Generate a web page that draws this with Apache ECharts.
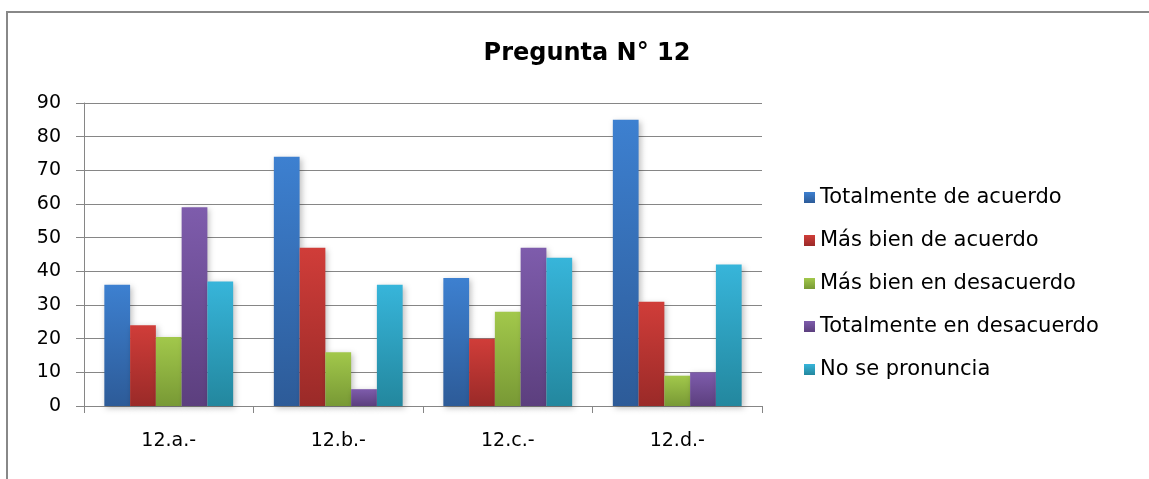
<!DOCTYPE html>
<html><head><meta charset="utf-8">
<script src="https://cdn.jsdelivr.net/npm/echarts@6/dist/echarts.min.js"></script>
<style>html,body{margin:0;padding:0;background:#fff}#c{width:1149px;height:479px}</style>
</head><body><div id="c"></div>
<script>
const categories = ['12.a.-', '12.b.-', '12.c.-', '12.d.-'];
const seriesNames = ['Totalmente de acuerdo', 'Más bien de acuerdo', 'Más bien en desacuerdo', 'Totalmente en desacuerdo', 'No se pronuncia'];
const totalmenteDeAcuerdo = [36, 74, 38, 85];
const masBienDeAcuerdo = [24, 47, 20, 31];
const masBienEnDesacuerdo = [20.5, 16, 28, 9];
const totalmenteEnDesacuerdo = [59, 5, 47, 10];
const noSePronuncia = [37, 36, 44, 42];
const yTicks = [0, 10, 20, 30, 40, 50, 60, 70, 80, 90];

const values = [totalmenteDeAcuerdo, masBienDeAcuerdo, masBienEnDesacuerdo, totalmenteEnDesacuerdo, noSePronuncia];
const colors = [['#3D80D0', '#2D5B98'], ['#D03D39', '#9A2A28'], ['#A2C84B', '#789935'], ['#7E5CAC', '#5C3F7E'], ['#37B5DA', '#23879E']];
const FONT = 'DejaVu Sans';

const chart = echarts.init(document.getElementById('c'), null, {renderer: 'canvas'});
chart.setOption({
  animation: false,
  backgroundColor: '#fff',
  title: {
    text: 'Pregunta N° 12', left: 582, top: 37, textAlign: 'center',
    textStyle: {fontFamily: FONT, fontWeight: 'bold', fontSize: 24, color: '#000'}
  },
  graphic: [{
    type: 'polyline', silent: true,
    shape: {points: [[7, 480], [7, 12], [1150, 12]]},
    style: {stroke: '#888', lineWidth: 2, fill: null}
  }],
  legend: {
    orient: 'vertical', left: 799, top: 182, itemGap: 22,
    itemWidth: 11, itemHeight: 11, icon: 'rect',
    textStyle: {fontFamily: FONT, fontSize: 21, color: '#000'},
    data: seriesNames
  },
  grid: {left: 84, right: 387, top: 103, bottom: 73},
  xAxis: {
    type: 'category', data: categories,
    axisLine: {lineStyle: {color: '#868686', width: 1}},
    axisTick: {show: true, length: 7, lineStyle: {color: '#868686'}},
    axisLabel: {fontFamily: FONT, fontSize: 19, color: '#000', margin: 26}
  },
  yAxis: {
    type: 'value', min: 0, max: 90, interval: 10,
    axisLine: {show: true, lineStyle: {color: '#868686'}},
    axisTick: {show: true, length: 8, lineStyle: {color: '#868686'}},
    axisLabel: {fontFamily: FONT, fontSize: 19, color: '#000', margin: 23,
      formatter: v => yTicks.includes(v) ? String(v) : ''},
    splitLine: {lineStyle: {color: '#868686', width: 1}}
  },
  series: seriesNames.map((n, i) => ({
    name: n, type: 'bar', data: values[i],
    barGap: '0%', barCategoryGap: '24%',
    itemStyle: {
      color: new echarts.graphic.LinearGradient(0, 0, 0, 1, [
        {offset: 0, color: colors[i][0]}, {offset: 1, color: colors[i][1]}]),
      shadowColor: 'rgba(0,0,0,0.25)', shadowBlur: 6, shadowOffsetX: 2, shadowOffsetY: 2
    }
  }))
});
</script></body></html>
